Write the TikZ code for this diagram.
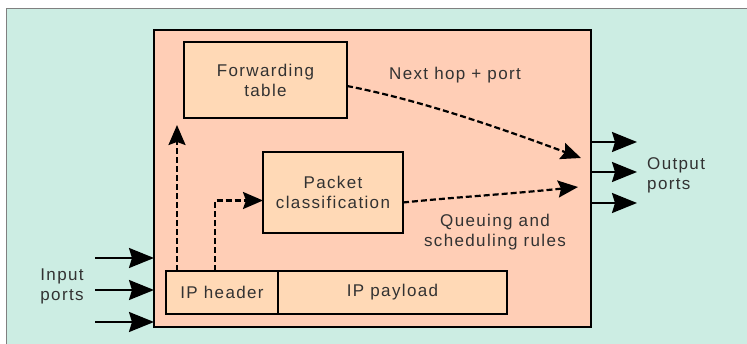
\documentclass[tikz,border=0pt]{standalone}
\usepackage{fontspec}
\setmainfont{Liberation Sans}[LetterSpace=8]
\usetikzlibrary{positioning,arrows.meta}
\definecolor{bgmint}{RGB}{204,237,227}
\definecolor{rtpeach}{RGB}{255,206,182}
\definecolor{boxpeach}{RGB}{255,217,182}
\definecolor{txtgray}{RGB}{50,50,50}
\tikzstyle{rect} = [rectangle, draw=black, line width=1.7pt, inner sep=0pt, outer sep=0pt, text centered, text=txtgray]
\tikzstyle{port} = [line width=2pt, -{Stealth[length=25pt,width=20pt,inset=3pt]}]
\tikzstyle{dasharrow} = [line width=2.2pt, dash pattern=on 6pt off 3pt, -{Stealth[length=20pt,width=17pt,inset=3pt]}]

\begin{document}
\begin{tikzpicture}[x=1pt, y=-1pt, font=\fontsize{17}{20}\selectfont]
\tikzset{%
	box/.style = {rect, fill=boxpeach, align=center},
	lbl/.style = {text=txtgray, align=center, inner sep=0pt}
}
\useasboundingbox (0,0) rectangle (747,344);
\fill [bgmint] (6,9) rectangle (747,344);
\draw [gray, line width=1pt] (6,344) -- (6,9) -- (747,9);

\node(rt) [rect, fill=rtpeach, anchor=north west, minimum width=437pt, minimum height=297pt] at (154,30) {};
\node(fw) [box, anchor=north west, minimum width=163pt, minimum height=76pt] at (184,42) {Forwarding\\table};
\node(pc) [box, anchor=north west, minimum width=140pt, minimum height=81pt] at (263,152) {Packet\\classification};
\node(ih) [box, anchor=north west, minimum width=112pt, minimum height=43pt] at (166,271) {IP header};
\node(ip) [box, right=0pt of ih, minimum width=229pt, minimum height=43pt] {IP payload};

\node(nh) [lbl] at (455,75) {Next hop + port};
\node(qs) [lbl] at (495,232) {Queuing and\\scheduling rules};
\node(inp) [lbl] at (62,286) {Input\\ports};
\node(outp) [lbl, anchor=west, align=left] at (647,175) {Output\\ports};

% ports
\coordinate (in1) at (95,258);
\coordinate (in2) at (95,290);
\coordinate (in3) at (95,322);
\coordinate (out1) at (637,142);
\coordinate (out2) at (637,172);
\coordinate (out3) at (637,203);
\foreach \i in {1,2,3} {
	\draw [port] (in\i) -- (rt.west |- in\i);
	\draw [port] (rt.east |- out\i) -- (out\i);
}

% lookups
\coordinate (hop) at (581,158);
\coordinate (que) at (578,187);
\draw [dasharrow] ([xshift=11pt]ih.north west) -- ([xshift=-7pt, yshift=-7pt]fw.south west);
\draw [dasharrow] ([xshift=49pt]ih.north west) |- ([yshift=-8pt]pc.west);
\draw [dasharrow] ([yshift=-6pt]fw.east) .. controls +(73,14) and +(-81,-30) .. (hop);
\draw [dasharrow] ([yshift=-10pt]pc.east) .. controls +(60,-6) and +(-80,8) .. (que);
\end{tikzpicture}
\end{document}
